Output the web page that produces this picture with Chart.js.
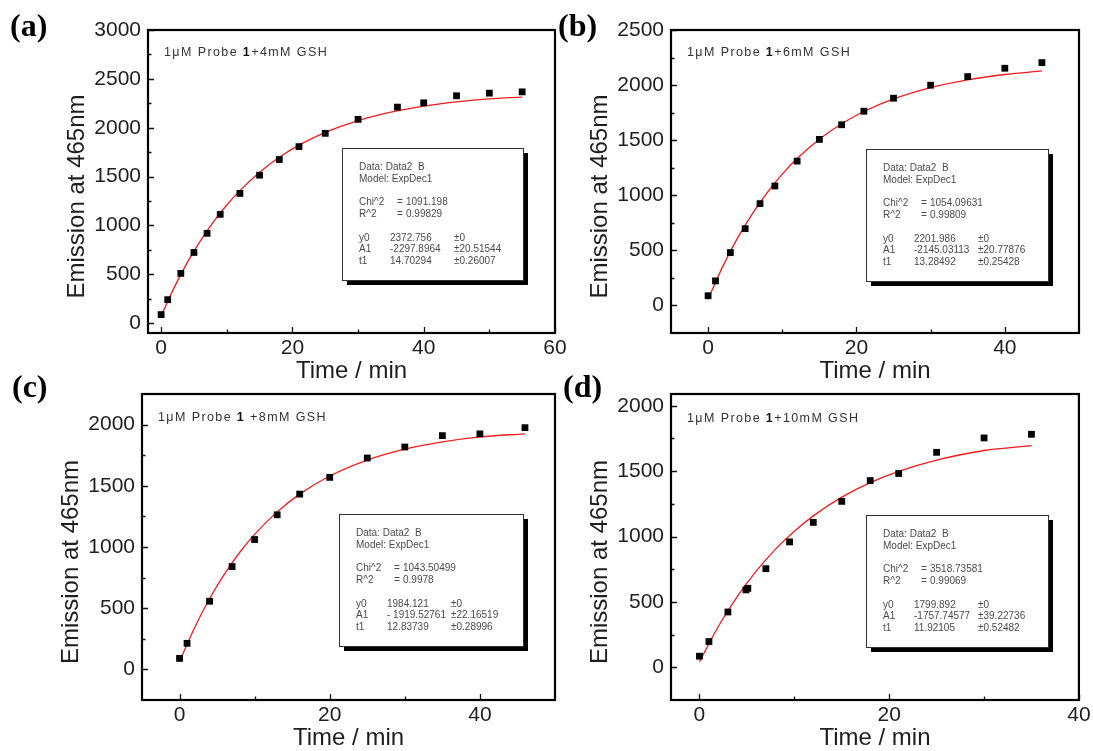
<!DOCTYPE html>
<html>
<head>
<meta charset="utf-8">
<script src="https://cdn.jsdelivr.net/npm/chart.js@4.4.1/dist/chart.umd.min.js"></script>
<style>
html,body{margin:0;padding:0;background:#fff;}
body{width:1093px;height:751px;overflow:hidden;position:relative;}
.panel{position:absolute;}
canvas{display:block;}
</style>
</head>
<body>
<div class="panel" style="left:0px;top:0px"><canvas id="ca" width="580" height="400"></canvas></div>
<div class="panel" style="left:556px;top:0px"><canvas id="cb" width="537" height="400"></canvas></div>
<div class="panel" style="left:0px;top:370px"><canvas id="cc" width="580" height="400"></canvas></div>
<div class="panel" style="left:556px;top:370px"><canvas id="cd" width="537" height="400"></canvas></div>
<script>
// ---------- Panel (a): 1 uM probe + 4 mM GSH ----------
const timeA = [0, 1, 3, 5, 7, 9, 12, 15, 18, 21, 25, 30, 36, 40, 45, 50, 55];
const emissionA = [88, 241, 510, 724, 920, 1114, 1328, 1515, 1675, 1807, 1943, 2086, 2211, 2255, 2327, 2354, 2367];
const fitTimeA = [0, 2, 4, 6, 8, 10, 12, 15, 18, 21, 25, 30, 35, 40, 45, 50, 55];
const fitEmissionA = [75, 367, 622, 845, 1040, 1210, 1357, 1545, 1698, 1822, 1953, 2074, 2160, 2222, 2265, 2296, 2314];
const xTicksA = [0, 20, 40, 60];
const yTicksA = [0, 500, 1000, 1500, 2000, 2500, 3000];
const conditionA = ['1\u03bcM Probe ', '1', '+4mM GSH'];
const fitStatsA = ['1091.198', '0.99829'];
const fitParamsA = ['2372.756', '-2297.8964', '14.70294'];
const fitErrorsA = ['\u00b10', '\u00b120.51544', '\u00b10.26007'];

// ---------- Panel (b): 1 uM probe + 6 mM GSH ----------
const timeB = [0, 1, 3, 5, 7, 9, 12, 15, 18, 21, 25, 30, 35, 40, 45];
const emissionB = [88, 223, 480, 697, 924, 1084, 1310, 1507, 1640, 1763, 1881, 1999, 2077, 2153, 2204];
const fitTimeB = [0, 2, 4, 6, 8, 10, 12, 15, 18, 21, 25, 30, 35, 40, 45];
const fitEmissionB = [57, 357, 615, 836, 1027, 1192, 1333, 1509, 1649, 1760, 1875, 1978, 2048, 2096, 2129];
const xTicksB = [0, 20, 40];
const yTicksB = [0, 500, 1000, 1500, 2000, 2500];
const conditionB = ['1\u03bcM Probe ', '1', '+6mM GSH'];
const fitStatsB = ['1054.09631', '0.99809'];
const fitParamsB = ['2201.986', '-2145.03113', '13.28492'];
const fitErrorsB = ['\u00b10', '\u00b120.77876', '\u00b10.25428'];

// ---------- Panel (c): 1 uM probe + 8 mM GSH ----------
const timeC = [0, 1, 4, 7, 10, 13, 16, 20, 25, 30, 35, 40, 46];
const emissionC = [90, 213, 557, 840, 1061, 1263, 1432, 1569, 1727, 1817, 1910, 1924, 1975];
const fitTimeC = [0, 2, 4, 6, 8, 10, 13, 16, 20, 25, 30, 35, 40, 46];
const fitEmissionC = [65, 341, 579, 781, 955, 1103, 1287, 1432, 1580, 1710, 1799, 1858, 1899, 1925];
const xTicksC = [0, 20, 40];
const yTicksC = [0, 500, 1000, 1500, 2000];
const conditionC = ['1\u03bcM Probe ', '1', ' +8mM GSH'];
const fitStatsC = ['1043.50499', '0.9978'];
const fitParamsC = ['1984.121', '- 1919.52761', '12.83739'];
const fitErrorsC = ['\u00b10', '\u00b122.16519', '\u00b10.28996'];

// ---------- Panel (d): 1 uM probe + 10 mM GSH ----------
const timeD = [0, 1, 3, 4.9, 5.1, 7, 9.5, 12, 15, 18, 21, 25, 30, 35];
const emissionD = [85, 197, 423, 592, 604, 754, 959, 1108, 1269, 1428, 1482, 1644, 1754, 1782];
const fitTimeD = [0, 2, 4, 6, 8, 10, 12, 15, 18, 21, 25, 30, 35];
const fitEmissionD = [42, 314, 543, 737, 902, 1040, 1158, 1301, 1412, 1498, 1584, 1658, 1695];
const xTicksD = [0, 20, 40];
const yTicksD = [0, 500, 1000, 1500, 2000];
const conditionD = ['1\u03bcM Probe ', '1', '+10mM GSH'];
const fitStatsD = ['3518.73581', '0.99069'];
const fitParamsD = ['1799.892', '-1757.74577', '11.92105'];
const fitErrorsD = ['\u00b10', '\u00b139.22736', '\u00b10.52482'];

const SANS = "'Liberation Sans', Arial, Helvetica, sans-serif";
const SERIF = "'Liberation Serif', 'Times New Roman', serif";
const INK = '#1e1e1e';

function minorTicks(major, min, max) {
  const step = major[1] - major[0];
  const out = [];
  for (let v = major[0] - step / 2; v < max; v += step) {
    if (v > min && v < max) out.push(v);
  }
  return out;
}

function drawSpaced(ctx, text, x, y, spacing) {
  for (const ch of text) {
    ctx.fillText(ch, x, y);
    x += ctx.measureText(ch).width + spacing;
  }
  return x;
}

function makeDecor(p) {
  return {
    id: 'decor_' + p.canvas,
    afterDraw(chart) {
      const ctx = chart.ctx, ca = chart.chartArea;
      const xs = chart.scales.x, ys = chart.scales.y;
      ctx.save();
      // inward ticks
      ctx.strokeStyle = '#111';
      ctx.lineWidth = 1.3;
      ctx.beginPath();
      p.yTicks.forEach(v => { const py = Math.round(ys.getPixelForValue(v)) + 0.5; ctx.moveTo(ca.left, py); ctx.lineTo(ca.left + 6, py); });
      minorTicks(p.yTicks, p.yMin, p.yMax).forEach(v => { const py = Math.round(ys.getPixelForValue(v)) + 0.5; ctx.moveTo(ca.left, py); ctx.lineTo(ca.left + 3.5, py); });
      p.xTicks.forEach(v => { const px = Math.round(xs.getPixelForValue(v)) + 0.5; ctx.moveTo(px, ca.bottom); ctx.lineTo(px, ca.bottom - 6); });
      minorTicks(p.xTicks, p.xMin, p.xMax).forEach(v => { const px = Math.round(xs.getPixelForValue(v)) + 0.5; ctx.moveTo(px, ca.bottom); ctx.lineTo(px, ca.bottom - 3.5); });
      ctx.stroke();
      // frame
      ctx.lineWidth = 2.2;
      ctx.strokeStyle = '#000';
      ctx.strokeRect(ca.left, ca.top, ca.right - ca.left, ca.bottom - ca.top);
      // y axis title
      ctx.fillStyle = INK;
      ctx.font = '24px ' + SANS;
      ctx.textAlign = 'center';
      ctx.textBaseline = 'middle';
      ctx.save();
      ctx.translate(ca.left - 71, (ca.top + ca.bottom) / 2 + 15);
      ctx.rotate(-Math.PI / 2);
      ctx.fillText('Emission at 465nm', 0, 0);
      ctx.restore();
      // panel letter
      ctx.fillStyle = '#000';
      ctx.font = 'bold 32px ' + SERIF;
      ctx.textAlign = 'left';
      ctx.fillText(p.letter, p.letterPos[0], p.letterPos[1]);
      // condition text
      const sp = 1.4;
      let tx = ca.left + 16, ty = ca.top + p.condDy;
      ctx.fillStyle = '#333';
      ctx.font = '12.5px ' + SANS;
      tx = drawSpaced(ctx, p.condition[0], tx, ty, sp);
      ctx.font = 'bold 12.5px ' + SANS;
      ctx.fillStyle = '#111';
      tx = drawSpaced(ctx, p.condition[1], tx, ty, sp);
      ctx.font = '12.5px ' + SANS;
      ctx.fillStyle = '#333';
      drawSpaced(ctx, p.condition[2], tx, ty, sp);
      // fit results box with drop shadow
      const bx = ca.left + p.box[0], by = ca.top + p.box[1], bw = p.box[2], bh = 132;
      ctx.fillStyle = '#000';
      ctx.fillRect(bx + 5, by + 5, bw, bh);
      ctx.fillStyle = '#fff';
      ctx.fillRect(bx, by, bw, bh);
      ctx.lineWidth = 1;
      ctx.strokeStyle = '#333';
      ctx.strokeRect(bx + 0.5, by + 0.5, bw, bh);
      ctx.fillStyle = '#4a4a4a';
      ctx.font = '10px ' + SANS;
      ctx.textBaseline = 'middle';
      const c1 = bx + 17, c2 = bx + 48, ceq = bx + 55, cev = bx + 64, c3 = bx + 112;
      ctx.fillText('Data: Data2  B', c1, by + 19);
      ctx.fillText('Model: ExpDec1', c1, by + 31);
      ctx.fillText('Chi^2', c1, by + 54);
      ctx.fillText('=', ceq, by + 54);
      ctx.fillText(p.stats[0], cev, by + 54);
      ctx.fillText('R^2', c1, by + 66);
      ctx.fillText('=', ceq, by + 66);
      ctx.fillText(p.stats[1], cev, by + 66);
      ['y0', 'A1', 't1'].forEach((nm, i) => {
        const yy = by + 90 + i * 11.5;
        ctx.fillText(nm, c1, yy);
        ctx.fillText(p.params[i], c2, yy);
        ctx.fillText(p.errors[i], c3, yy);
      });
      ctx.restore();
    }
  };
}

function buildPanel(p) {
  const canvas = document.getElementById(p.canvas);
  const W = canvas.width, H = canvas.height;
  const fl = p.frame[0] - p.origin[0], ft = p.frame[1] - p.origin[1];
  const fr = p.frame[2] - p.origin[0], fb = p.frame[3] - p.origin[1];
  const yW = 80;
  const xScaleBottom = fb + 38.5 + 14.4;
  const xH = xScaleBottom - fb;
  const padding = { left: fl - yW, top: ft, right: W - fr, bottom: H - xScaleBottom };
  new Chart(canvas, {
    type: 'scatter',
    data: {
      datasets: [
        {
          type: 'line',
          data: p.fitX.map((x, i) => ({ x: x, y: p.fitY[i] })),
          borderColor: '#f21c1c',
          borderWidth: 1.3,
          pointRadius: 0,
          cubicInterpolationMode: 'monotone',
          fill: false,
          order: 2
        },
        {
          type: 'scatter',
          data: p.x.map((x, i) => ({ x: x, y: p.y[i] })),
          pointStyle: 'rect',
          pointRadius: 4.8,
          backgroundColor: '#000',
          borderColor: '#000',
          borderWidth: 0,
          order: 1
        }
      ]
    },
    options: {
      responsive: false,
      animation: false,
      devicePixelRatio: 1,
      layout: { padding: padding },
      plugins: { legend: { display: false }, tooltip: { enabled: false } },
      scales: {
        x: {
          type: 'linear', position: 'bottom', min: p.xMin, max: p.xMax,
          grid: { display: false, drawTicks: false }, border: { display: false },
          afterBuildTicks: s => { s.ticks = p.xTicks.map(v => ({ value: v })); },
          afterFit: s => { s.height = xH; },
          ticks: { font: { family: SANS, size: 21 }, color: INK, padding: 2.4, maxRotation: 0, autoSkip: false, callback: v => String(v) },
          title: { display: true, text: 'Time / min', font: { family: SANS, size: 24 }, color: INK, padding: { top: 0, bottom: 0 } }
        },
        y: {
          type: 'linear', position: 'left', min: p.yMin, max: p.yMax,
          grid: { display: false, drawTicks: false }, border: { display: false },
          afterBuildTicks: s => { s.ticks = p.yTicks.map(v => ({ value: v })); },
          afterFit: s => { s.width = yW; },
          ticks: { font: { family: SANS, size: 21 }, color: INK, padding: 7, autoSkip: false, callback: v => String(v) },
          title: { display: false }
        }
      }
    },
    plugins: [makeDecor(p)]
  });
}

buildPanel({ canvas: 'ca', origin: [0, 0], frame: [148, 30, 555, 333], xMin: -2, xMax: 60, yMin: -100, yMax: 3000,
  x: timeA, y: emissionA, fitX: fitTimeA, fitY: fitEmissionA, xTicks: xTicksA, yTicks: yTicksA,
  letter: '(a)', letterPos: [10, 28], condition: conditionA, condDy: 23, box: [194, 118, 181],
  stats: fitStatsA, params: fitParamsA, errors: fitErrorsA });
buildPanel({ canvas: 'cb', origin: [556, 0], frame: [671, 30, 1079, 333], xMin: -5, xMax: 50, yMin: -250, yMax: 2500,
  x: timeB, y: emissionB, fitX: fitTimeB, fitY: fitEmissionB, xTicks: xTicksB, yTicks: yTicksB,
  letter: '(b)', letterPos: [2, 28], condition: conditionB, condDy: 23, box: [195, 119, 182],
  stats: fitStatsB, params: fitParamsB, errors: fitErrorsB });
buildPanel({ canvas: 'cc', origin: [0, 370], frame: [142, 394, 555, 700], xMin: -5, xMax: 50, yMin: -250, yMax: 2250,
  x: timeC, y: emissionC, fitX: fitTimeC, fitY: fitEmissionC, xTicks: xTicksC, yTicks: yTicksC,
  letter: '(c)', letterPos: [12, 19], condition: conditionC, condDy: 24, box: [197, 120, 184],
  stats: fitStatsC, params: fitParamsC, errors: fitErrorsC });
buildPanel({ canvas: 'cd', origin: [556, 370], frame: [671, 394, 1079, 700], xMin: -3, xMax: 40, yMin: -250, yMax: 2090,
  x: timeD, y: emissionD, fitX: fitTimeD, fitY: fitEmissionD, xTicks: xTicksD, yTicks: yTicksD,
  letter: '(d)', letterPos: [7, 19], condition: conditionD, condDy: 25, box: [195, 121, 182],
  stats: fitStatsD, params: fitParamsD, errors: fitErrorsD });
</script>
</body>
</html>
